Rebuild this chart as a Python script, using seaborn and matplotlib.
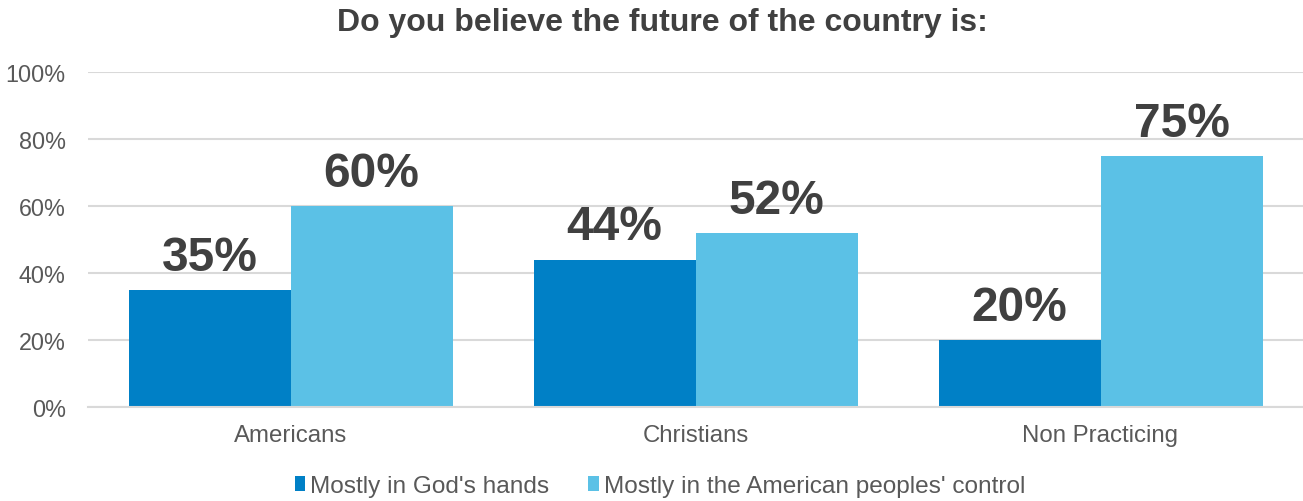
import matplotlib
matplotlib.use("Agg")
import matplotlib.pyplot as plt
import seaborn as sns
import pandas as pd

# Survey results (percent)
groups = ["Americans", "Christians", "Non Practicing"]
series_names = ["Mostly in God's hands", "Mostly in the American peoples' control"]
gods_hands = [35, 44, 20]
peoples_control = [60, 52, 75]
y_ticks = [0, 20, 40, 60, 80, 100]
y_tick_labels = ["0%", "20%", "40%", "60%", "80%", "100%"]
title = "Do you believe the future of the country is:"

colors = ["#0080C6", "#5BC1E6"]

df = pd.DataFrame({
    "group": groups * 2,
    "series": [series_names[0]] * len(groups) + [series_names[1]] * len(groups),
    "value": gods_hands + peoples_control,
})

sns.set_theme(style="white")
plt.rcParams["font.family"] = ["Liberation Sans", "DejaVu Sans"]

fig = plt.figure(figsize=(13.03, 5.02), dpi=100)
ax = fig.add_axes([88 / 1303, 94 / 502, 1 - 88 / 1303, 335 / 502])

sns.barplot(data=df, x="group", y="value", hue="series", hue_order=series_names,
            palette=colors, saturation=1, width=0.8, ax=ax, legend=False,
            edgecolor="none", linewidth=0)

ax.set_ylim(0, 100)
ax.set_yticks(y_ticks)
ax.set_yticklabels(y_tick_labels)
ax.yaxis.grid(True, color="#D9D9D9", linewidth=1.5)
ax.set_axisbelow(True)
ax.set_xlabel("")
ax.set_ylabel("")
for side in ["top", "right", "left"]:
    ax.spines[side].set_visible(False)
ax.spines["bottom"].set_color("#D9D9D9")
ax.spines["bottom"].set_linewidth(1.5)
ax.tick_params(axis="y", length=0, pad=16, labelsize=16.8, labelcolor="#595959")
ax.tick_params(axis="x", length=0, pad=12, labelsize=17.3, labelcolor="#595959")

# Value labels above each bar
for container in ax.containers:
    for bar in container:
        h = bar.get_height()
        ax.annotate(f"{h:.0f}%", (bar.get_x() + bar.get_width() / 2, h),
                    xytext=(0, 14.5), textcoords="offset points",
                    ha="center", va="baseline", fontsize=34.5,
                    fontweight="bold", color="#404040")

fig.text(662 / 1303, 1 - 23 / 502, title, ha="center", va="center",
         fontsize=23, fontweight="bold", color="#404040")

handles = [plt.Rectangle((0, 0), 1, 1, facecolor=c, edgecolor="none") for c in colors]
fig.legend(handles, series_names, loc="center", bbox_to_anchor=(660 / 1303, 1 - 487 / 502),
           ncol=2, frameon=False, fontsize=17.6, handlelength=0.42, handleheight=0.55,
           handletextpad=0.2, columnspacing=1.6, labelcolor="#595959")

fig.savefig("out.png", dpi=100)
